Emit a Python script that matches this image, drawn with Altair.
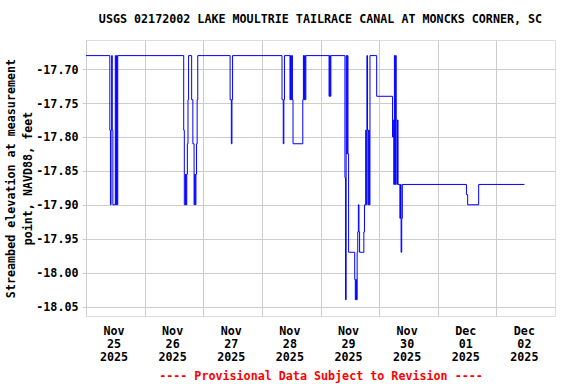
import altair as alt
import pandas as pd

# ---- data (15-minute step series) ----
times = [
    "2025-11-25T00:00", "2025-11-25T09:45", "2025-11-25T10:00", "2025-11-25T10:15",
    "2025-11-25T10:30", "2025-11-25T10:45", "2025-11-25T11:00", "2025-11-25T12:00",
    "2025-11-25T12:15", "2025-11-25T12:30", "2025-11-25T12:45", "2025-11-25T13:00",
    "2025-11-26T16:00", "2025-11-26T16:15", "2025-11-26T16:45", "2025-11-26T17:00",
    "2025-11-26T17:15", "2025-11-26T17:30", "2025-11-26T17:45", "2025-11-26T18:00",
    "2025-11-26T19:15", "2025-11-26T19:45", "2025-11-26T20:15", "2025-11-26T20:30",
    "2025-11-26T20:45", "2025-11-26T21:00", "2025-11-26T21:15", "2025-11-26T21:30",
    "2025-11-26T21:45",
    "2025-11-27T11:00", "2025-11-27T11:30", "2025-11-27T11:45", "2025-11-27T12:00",
    "2025-11-28T08:15", "2025-11-28T08:45", "2025-11-28T09:00", "2025-11-28T09:15",
    "2025-11-28T11:30", "2025-11-28T11:45", "2025-11-28T12:00", "2025-11-28T12:15",
    "2025-11-28T12:30", "2025-11-28T12:45", "2025-11-28T16:45", "2025-11-28T17:00",
    "2025-11-28T17:15", "2025-11-28T17:30", "2025-11-28T17:45", "2025-11-28T18:00",
    "2025-11-29T03:30", "2025-11-29T03:45", "2025-11-29T04:00", "2025-11-29T04:15",
    "2025-11-29T10:00", "2025-11-29T10:15", "2025-11-29T10:30", "2025-11-29T10:45",
    "2025-11-29T11:00", "2025-11-29T11:15", "2025-11-29T11:30", "2025-11-29T14:00",
    "2025-11-29T14:15", "2025-11-29T14:30", "2025-11-29T14:45", "2025-11-29T15:00",
    "2025-11-29T15:15", "2025-11-29T15:30", "2025-11-29T15:45", "2025-11-29T16:00",
    "2025-11-29T17:45", "2025-11-29T18:00", "2025-11-29T18:30", "2025-11-29T18:45",
    "2025-11-29T19:00", "2025-11-29T19:15", "2025-11-29T19:30", "2025-11-29T19:45",
    "2025-11-29T20:00", "2025-11-29T20:15", "2025-11-29T23:00",
    "2025-11-30T05:30", "2025-11-30T05:45", "2025-11-30T06:00", "2025-11-30T06:15",
    "2025-11-30T06:30", "2025-11-30T06:45", "2025-11-30T07:00", "2025-11-30T07:15",
    "2025-11-30T07:30", "2025-11-30T07:45", "2025-11-30T08:30", "2025-11-30T08:45",
    "2025-11-30T09:00", "2025-11-30T09:15", "2025-11-30T09:30",
    "2025-12-01T11:45", "2025-12-01T12:15", "2025-12-01T16:45",
    "2025-12-02T11:30",
]
values = [
    -17.68, -17.79, -17.90, -17.79,
    -17.68, -17.79, -17.90, -17.68,
    -17.90, -17.68, -17.90, -17.68,
    -17.79, -17.90, -17.855, -17.90,
    -17.855, -17.81, -17.745, -17.68,
    -17.745, -17.81, -17.90, -17.855,
    -17.90, -17.855, -17.81, -17.745,
    -17.68,
    -17.745, -17.81, -17.745, -17.68,
    -17.745, -17.81, -17.745, -17.68,
    -17.745, -17.68, -17.745, -17.68,
    -17.745, -17.81, -17.745, -17.68,
    -17.745, -17.68, -17.745, -17.68,
    -17.74, -17.68, -17.74, -17.68,
    -17.86, -18.04, -17.68, -17.825,
    -17.68, -17.825, -17.97, -18.01,
    -18.04, -18.01, -18.04, -17.97,
    -17.94, -17.90, -17.94, -17.97,
    -17.94, -17.90, -17.79, -17.90,
    -17.68, -17.79, -17.90, -17.79,
    -17.90, -17.68, -17.74,
    -17.80, -17.775, -17.87, -17.68,
    -17.87, -17.68, -17.775, -17.87,
    -17.775, -17.87, -17.92, -17.87,
    -17.97, -17.92, -17.87,
    -17.885, -17.90, -17.87,
    -17.87,
]

y_ticks = [-17.70, -17.75, -17.80, -17.85, -17.90, -17.95, -18.00, -18.05]
day_ticks = [(2025, 11, 25), (2025, 11, 26), (2025, 11, 27), (2025, 11, 28),
             (2025, 11, 29), (2025, 11, 30), (2025, 12, 1), (2025, 12, 2)]

title_text = "USGS 02172002 LAKE MOULTRIE TAILRACE CANAL AT MONCKS CORNER, SC"
y_title = ["Streambed elevation at measurement", "point, NAVD88, feet"]
footer = "---- Provisional Data Subject to Revision ----"

FONT = "DejaVu Sans Mono"
FS = 11.7

df = pd.DataFrame({"time": times, "value": values})

x_axis = alt.Axis(
    values=[alt.DateTime(year=y, month=m, date=d) for (y, m, d) in day_ticks],
    grid=True, gridColor="#cccccc", gridWidth=1,
    ticks=False, domain=False,
    labelExpr="[timeFormat(datum.value, '%b'), timeFormat(datum.value, '%d'), timeFormat(datum.value, '%Y')]",
    labelOffset=27.5, labelAlign="center", labelBaseline="top",
    labelPadding=9, labelLineHeight=13,
    labelFont=FONT, labelFontSize=FS, labelFontWeight="bold", labelColor="black",
    labelOverlap=False, labelBound=False, labelFlush=False,
    title=footer, titleFont=FONT, titleFontSize=FS, titleFontWeight="bold",
    titleColor="#ff0000", titlePadding=8,
)

y_axis = alt.Axis(
    values=y_ticks, grid=True, gridColor="#cccccc", gridWidth=1,
    ticks=True, tickColor="#cccccc", tickSize=4, domain=False,
    labelExpr="(datum.value < 0 ? '-' : '') + format(abs(datum.value), '.2f')",
    labelFont=FONT, labelFontSize=FS, labelFontWeight="bold", labelColor="black",
    labelPadding=4, labelOverlap=False,
    title=y_title, titleFont=FONT, titleFontSize=FS, titleFontWeight="bold",
    titleColor="black", titlePadding=2, titleLineHeight=17,
)

chart = alt.Chart(df).mark_line(
    interpolate="step-after", color="#0000ff", strokeWidth=1, clip=True
).encode(
    x=alt.X("time:T", axis=x_axis,
            scale=alt.Scale(domain=[alt.DateTime(year=2025, month=11, date=25),
                                    alt.DateTime(year=2025, month=12, date=3)])),
    y=alt.Y("value:Q", axis=y_axis,
            scale=alt.Scale(domain=[-18.064, -17.657], nice=False, zero=False)),
).properties(
    width=469, height=276,
    autosize=alt.AutoSizeParams(type="none"),
    padding={"left": 86, "top": 40, "right": 21, "bottom": 68},
    title=alt.TitleParams(text=title_text, font=FONT, fontSize=FS, fontWeight="bold",
                          color="black", anchor="middle", offset=14),
).configure_view(
    stroke="black", strokeWidth=1
).configure(background="white")

chart.save("out.html", embed_options={"renderer": "svg", "actions": False})
